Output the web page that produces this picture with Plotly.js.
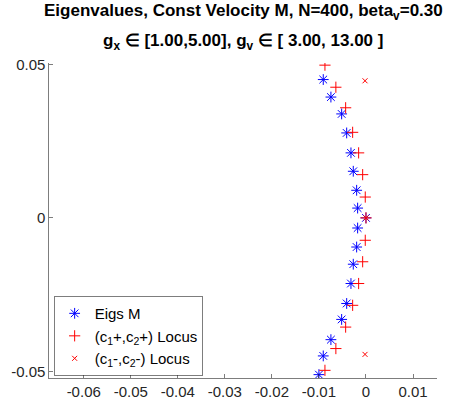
<!DOCTYPE html>
<html>
<head>
<meta charset="utf-8">
<script src="https://cdn.plot.ly/plotly-3.0.1.min.js"></script>
<style>html,body{margin:0;padding:0;background:#fff;}#chart{width:451px;height:410px;}</style>
</head>
<body>
<div id="chart"></div>
<script>
// Eigenvalues of M (blue asterisks)
const eigRe = [-0.00908, -0.00745, -0.00517, -0.0041, -0.00319, -0.0027, -0.00198, -0.00177, 0.0,
               -0.00177, -0.00198, -0.0027, -0.00319, -0.0041, -0.00517, -0.00745, -0.00908, -0.0100];
const eigIm = [0.0451, 0.0394, 0.0339, 0.0277, 0.0212, 0.0152, 0.0090, 0.0032, 0.0,
               -0.0033, -0.0095, -0.0151, -0.0214, -0.0279, -0.0331, -0.0397, -0.0450, -0.0511];
// (c1+,c2+) locus (red plus)
const plusRe = [-0.00872, -0.0064, -0.00432, -0.00283, -0.00156, -0.0007, -0.00015, 0.0,
                -0.00015, -0.0007, -0.00156, -0.00283, -0.00432, -0.0064, -0.00872];
const plusIm = [0.0498, 0.0426, 0.0359, 0.0279, 0.0212, 0.0141, 0.0068, 0.0,
                -0.0073, -0.0143, -0.0214, -0.0285, -0.0356, -0.0426, -0.0497];
// (c1-,c2-) locus (red x)
const minusRe = [-0.0002, 0.0, -0.0002];
const minusIm = [0.0447, 0.0, -0.0445];

const xTicks = [-0.06, -0.05, -0.04, -0.03, -0.02, -0.01, 0, 0.01];
const xTickText = ['-0.06', '-0.05', '-0.04', '-0.03', '-0.02', '-0.01', '0', '0.01'];
const yTicks = [-0.05, 0, 0.05];
const yTickText = ['-0.05', '0', '0.05'];

const titleLine1 = '<b>Eigenvalues, Const Velocity M, N=400, beta<sub>v</sub>=0.30</b>';
const titleLine2 = '<b>g<sub>x</sub> \u2208 [1.00,5.00], g<sub>v</sub> \u2208 [ 3.00, 13.00 ]</b>';

const FONT = 'Arial, "Liberation Sans", sans-serif';
const AX = '#262626';

const traces = [
  {x: eigRe, y: eigIm, type: 'scatter', mode: 'markers', name: 'Eigs M',
   marker: {symbol: 'asterisk-open', size: 9, color: '#0000ff', line: {color: '#0000ff', width: 1}}},
  {x: plusRe, y: plusIm, type: 'scatter', mode: 'markers', name: '(c<sub>1</sub>+,c<sub>2</sub>+) Locus',
   marker: {symbol: 'cross-thin-open', size: 8, color: '#ff0000', line: {color: '#ff0000', width: 1}}},
  {x: minusRe, y: minusIm, type: 'scatter', mode: 'markers', name: '(c<sub>1</sub>-,c<sub>2</sub>-) Locus',
   marker: {symbol: 'x-thin-open', size: 5, color: '#ff0000', line: {color: '#ff0000', width: 1}}}
];

const layout = {
  width: 451, height: 410,
  margin: {l: 49, r: 14, t: 63, b: 32, pad: 0},
  paper_bgcolor: '#ffffff', plot_bgcolor: '#ffffff',
  font: {family: FONT, size: 15, color: AX},
  showlegend: true,
  legend: {x: 0.013, y: 0.008, xanchor: 'left', yanchor: 'bottom',
           bgcolor: '#ffffff', bordercolor: AX, borderwidth: 0.6, itemwidth: 30,
           font: {family: FONT, size: 15, color: '#000000'}},
  xaxis: {range: [-0.06738, 0.0151], tickmode: 'array', tickvals: xTicks, ticktext: xTickText,
          ticks: 'inside', ticklen: 4, tickcolor: AX, tickwidth: 0.6,
          showline: true, linecolor: AX, linewidth: 0.6, showgrid: false, zeroline: false,
          tickfont: {family: FONT, size: 15, color: AX}, fixedrange: true},
  yaxis: {range: [-0.0522, 0.0505], tickmode: 'array', tickvals: yTicks, ticktext: yTickText,
          ticks: 'inside', ticklen: 4, tickcolor: AX, tickwidth: 0.6,
          showline: true, linecolor: AX, linewidth: 0.6, showgrid: false, zeroline: false,
          tickfont: {family: FONT, size: 15, color: AX}, fixedrange: true},
  annotations: [
    {text: titleLine1, xref: 'paper', yref: 'paper', x: 0.5, y: 1.162, xanchor: 'center', yanchor: 'middle',
     showarrow: false, font: {family: FONT, size: 17, color: '#000000'}},
    {text: titleLine2, xref: 'paper', yref: 'paper', x: 0.5, y: 1.066, xanchor: 'center', yanchor: 'middle',
     showarrow: false, font: {family: FONT, size: 17, color: '#000000'}}
  ]
};

Plotly.newPlot('chart', traces, layout, {displayModeBar: false, staticPlot: true});
</script>
</body>
</html>
